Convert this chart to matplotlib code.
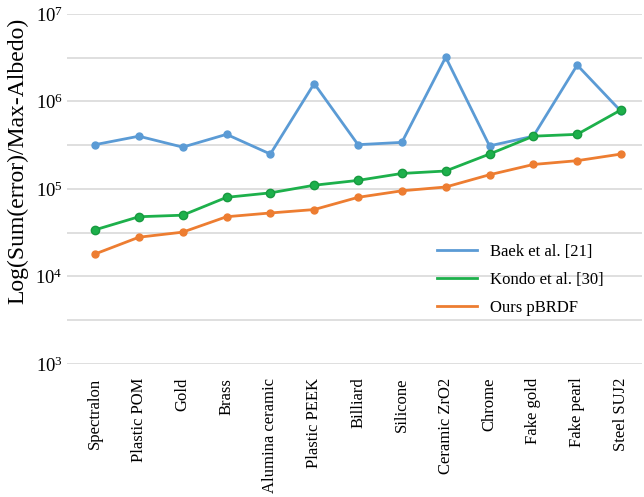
import numpy as np
import matplotlib
matplotlib.use("Agg")
from matplotlib import pyplot as plt
from matplotlib.lines import Line2D
from matplotlib.ticker import FixedLocator, LogFormatterMathtext, NullFormatter

# materials along the x axis
materials = ['Spectralon', 'Plastic POM', 'Gold', 'Brass', 'Alumina ceramic',
             'Plastic PEEK', 'Billiard', 'Silicone', 'Ceramic ZrO2', 'Chrome',
             'Fake gold', 'Fake pearl', 'Steel SUJ2']

# error values
baek = [3.2e5, 4.0e5, 3.0e5, 4.2e5, 2.5e5, 1.6e6, 3.2e5, 3.4e5, 3.2e6,
        3.1e5, 4.0e5, 2.6e6, 7.7e5]
kondo = [3.4e4, 4.8e4, 5.0e4, 8.0e4, 9.0e4, 1.1e5, 1.25e5, 1.5e5, 1.6e5,
         2.5e5, 4.0e5, 4.2e5, 8.0e5]
ours = [1.8e4, 2.8e4, 3.2e4, 4.8e4, 5.3e4, 5.8e4, 8.0e4, 9.5e4, 1.05e5,
        1.45e5, 1.9e5, 2.1e5, 2.5e5]

labels = ['Baek et al. [21]', 'Kondo et al. [30]', 'Ours pBRDF']
colors = ['#5B9BD5', '#1DB04B', '#ED7D31']

plt.rcParams['font.family'] = ['Liberation Serif', 'DejaVu Serif']
plt.rcParams['mathtext.fontset'] = 'stix'

fig = plt.figure(figsize=(6.44, 4.97), dpi=100)
ax = fig.add_axes([0.104, 0.268, 0.893, 0.704])

x = np.arange(len(materials))
ax.plot(x, baek, '-o', color=colors[0], lw=2, ms=5, zorder=3)
ax.plot(x, kondo, '-o', color=colors[1], mec='#189A40', lw=2, ms=6, zorder=4)
ax.plot(x, ours, '-o', color=colors[2], lw=2, ms=5, zorder=5)

ax.set_yscale('log')
ax.set_ylim(1e3, 1e7)
ax.set_xlim(-0.64, 12.48)

# grid every half decade, labels only on decades
ax.yaxis.set_major_locator(FixedLocator([1e3, 1e4, 1e5, 1e6, 1e7]))
ax.yaxis.set_major_formatter(LogFormatterMathtext())
ax.yaxis.set_minor_locator(FixedLocator(10 ** np.array([3.5, 4.5, 5.5, 6.5])))
ax.yaxis.set_minor_formatter(NullFormatter())
ax.grid(True, which='both', axis='y', color='#D9D9D9', lw=1.2)
ax.set_axisbelow(True)

ax.set_xticks(x)
ax.set_xticklabels(materials, rotation=90, fontsize=12)
ax.tick_params(axis='x', length=0, pad=10)
ax.tick_params(axis='y', which='both', length=0, labelsize=13.5, pad=3)
for s in ax.spines.values():
    s.set_visible(False)

ax.set_ylabel('Log(Sum(error)/Max-Albedo)', fontsize=17)
ax.yaxis.set_label_coords(-0.067, 0.58)

# legend shows plain lines, no markers
handles = [Line2D([], [], color=c, lw=2) for c in colors]
ax.legend(handles, labels, loc='lower right', bbox_to_anchor=(0.96, 0.095),
          frameon=False, fontsize=12, handlelength=2.4, labelspacing=0.72)

fig.savefig('out.png', dpi=100)
